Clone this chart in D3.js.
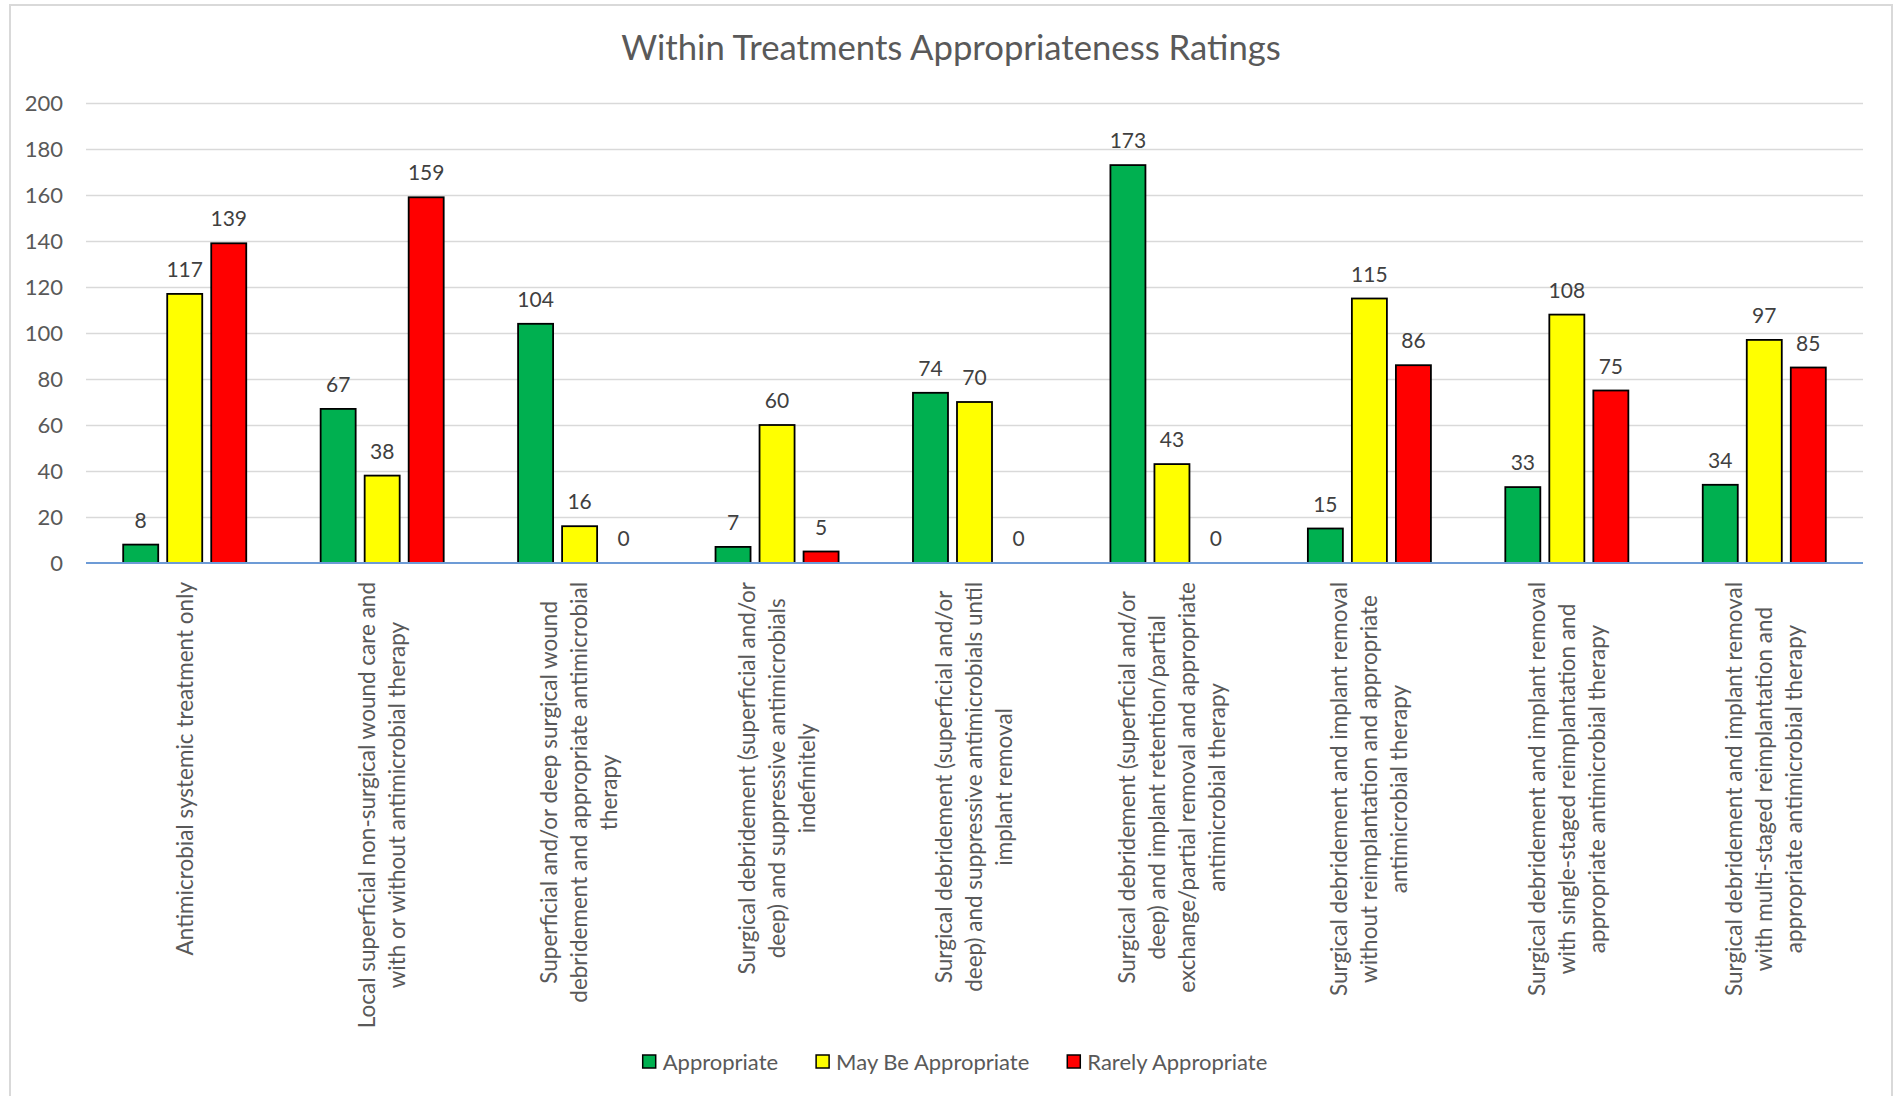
<!DOCTYPE html>
<html>
<head>
<meta charset="utf-8">
<script src="https://cdn.jsdelivr.net/npm/d3@7"></script>
<style>
    html, body { margin: 0; padding: 0; background: #fff; }
    svg { display: block; font-family: Lato, 'Open Sans', sans-serif; }
</style>
</head>
<body>
<svg id="chart" width="1897" height="1096"></svg>
<script>
const TITLE = 'Within Treatments Appropriateness Ratings';

// category labels, wrapped the way the original wraps them
const categories = [
    'Antimicrobial systemic treatment only',
    'Local superficial non-surgical wound care and\nwith or without antimicrobial therapy',
    'Superficial and/or deep surgical wound\ndebridement and appropriate antimicrobial\ntherapy',
    'Surgical debridement (superficial and/or\ndeep) and suppressive antimicrobials\nindefinitely',
    'Surgical debridement (superficial and/or\ndeep) and suppressive antimicrobials until\nimplant removal',
    'Surgical debridement (superficial and/or\ndeep) and implant retention/partial\nexchange/partial removal and appropriate\nantimicrobial therapy',
    'Surgical debridement and implant removal\nwithout reimplantation and appropriate\nantimicrobial therapy',
    'Surgical debridement and implant removal\nwith single-staged reimplantation and\nappropriate antimicrobial therapy',
    'Surgical debridement and implant removal\nwith multi-staged reimplantation and\nappropriate antimicrobial therapy'
];

const seriesNames = ['Appropriate', 'May Be Appropriate', 'Rarely Appropriate'];
const seriesColors = ['#00b050', '#ffff00', '#ff0000'];

const appropriate = [8, 67, 104, 7, 74, 173, 15, 33, 34];
const mayBeAppropriate = [117, 38, 16, 60, 70, 43, 115, 108, 97];
const rarelyAppropriate = [139, 159, 0, 5, 0, 0, 86, 75, 85];

const yTicks = [0, 20, 40, 60, 80, 100, 120, 140, 160, 180, 200];

const seriesValues = [appropriate, mayBeAppropriate, rarelyAppropriate];
const rows = categories.map((c, i) => ({
    category: c,
    values: seriesNames.map((s, j) => ({ series: s, color: seriesColors[j], value: seriesValues[j][i] }))
}));

const svg = d3.select('#chart');

// chart area frame
svg.append('rect')
    .attr('x', 10).attr('y', 5)
    .attr('width', 1882).attr('height', 1200)
    .attr('fill', '#fff')
    .attr('stroke', '#d9d9d9')
    .attr('stroke-width', 2);

const plot = { left: 86, right: 1863, top: 103, bottom: 563 };

const x0 = d3.scaleBand()
    .domain(categories)
    .range([plot.left, plot.right])
    .padding(0);

const x1 = d3.scaleBand()
    .domain(seriesNames)
    .range([0, x0.bandwidth()])
    .paddingInner(0.2045)
    .paddingOuter(0.845);

const y = d3.scaleLinear()
    .domain([0, 200])
    .range([plot.bottom, plot.top]);

// title
svg.append('text')
    .attr('x', 951)
    .attr('y', 60)
    .attr('text-anchor', 'middle')
    .style('font-size', '34.7px')
    .style('fill', '#595959')
    .text(TITLE);

// y axis with gridlines
const yAxis = svg.append('g')
    .attr('transform', `translate(${plot.left},0)`)
    .call(d3.axisLeft(y)
        .tickValues(yTicks)
        .tickSize(-(plot.right - plot.left))
        .tickPadding(23));
yAxis.select('.domain').remove();
yAxis.selectAll('.tick line')
    .attr('stroke', '#d9d9d9')
    .attr('stroke-width', 1.5)
    .filter(d => d === 0).remove();
yAxis.selectAll('.tick text')
    .style('font-size', '22px')
    .style('font-family', 'Lato, sans-serif')
    .attr('fill', '#595959');

// bars
const groups = svg.append('g')
    .selectAll('g')
    .data(rows)
    .join('g')
    .attr('transform', d => `translate(${x0(d.category)},0)`);

groups.selectAll('rect')
    .data(d => d.values)
    .join('rect')
    .attr('x', d => x1(d.series))
    .attr('y', d => y(d.value))
    .attr('width', x1.bandwidth())
    .attr('height', d => y(0) - y(d.value))
    .attr('fill', d => d.color)
    .attr('stroke', d => d.value > 0 ? '#000' : 'none')
    .attr('stroke-width', 1.8);

groups.selectAll('text')
    .data(d => d.values)
    .join('text')
    .attr('x', d => x1(d.series) + x1.bandwidth() / 2)
    .attr('y', d => y(d.value) - 17)
    .attr('text-anchor', 'middle')
    .style('font-size', '21px')
    .style('fill', '#404040')
    .text(d => d.value);

// category axis line
svg.append('line')
    .attr('x1', plot.left).attr('x2', plot.right)
    .attr('y1', y(0)).attr('y2', y(0))
    .attr('stroke', '#6d9bd6')
    .attr('stroke-width', 2);

// rotated, wrapped category labels (longest line ends at the top)
const lineHeight = 30;
const labels = svg.append('g')
    .selectAll('g')
    .data(categories)
    .join('g')
    .attr('transform', d => `translate(${x0(d) + x0.bandwidth() / 2},582) rotate(-90)`);

labels.each(function (d) {
    const g = d3.select(this);
    const lines = d.split('\n');
    const texts = lines.map((line, i) => g.append('text')
        .attr('y', (i - (lines.length - 1) / 2) * lineHeight)
        .attr('dy', '0.35em')
        .attr('text-anchor', 'middle')
        .style('font-size', '22.5px')
        .style('fill', '#595959')
        .text(line));
    const maxLen = d3.max(texts, t => t.node().getComputedTextLength());
    texts.forEach(t => t.attr('x', -maxLen / 2));
});

// legend
const legend = svg.append('g');
let lx = 0;
seriesNames.forEach((name, i) => {
    const item = legend.append('g').attr('transform', `translate(${lx},0)`);
    item.append('rect')
        .attr('x', 0).attr('y', -7)
        .attr('width', 13).attr('height', 13)
        .attr('fill', seriesColors[i])
        .attr('stroke', '#000')
        .attr('stroke-width', 1.5);
    const t = item.append('text')
        .attr('x', 20)
        .attr('dy', '0.35em')
        .style('font-size', '22px')
        .style('fill', '#595959')
        .text(name);
    lx += 20 + t.node().getComputedTextLength() + 38;
});
const legendWidth = lx - 38;
legend.attr('transform', `translate(${955 - legendWidth / 2},1062)`);
</script>
</body>
</html>
